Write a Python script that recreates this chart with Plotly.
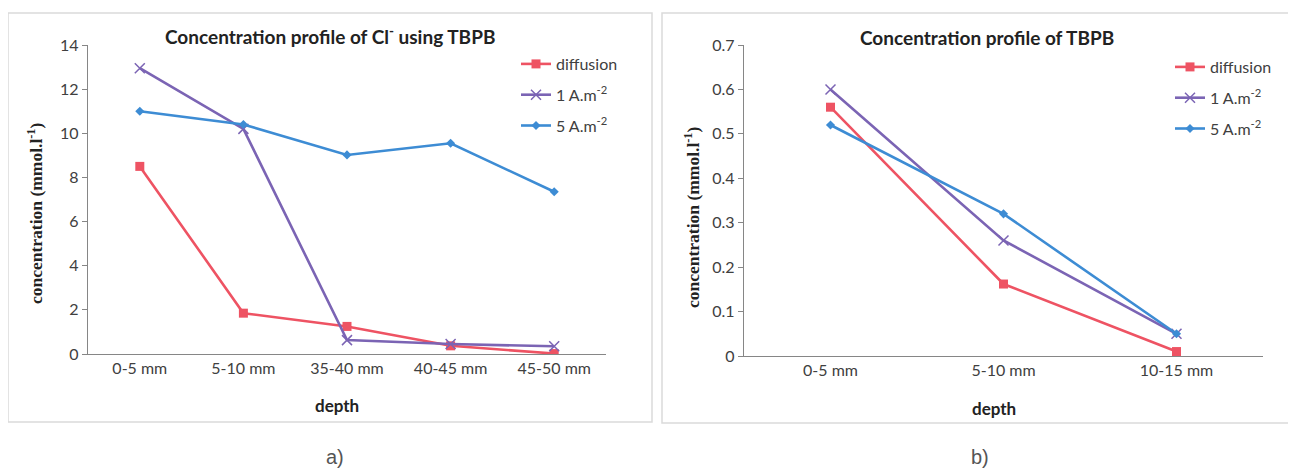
import plotly.graph_objects as go

# page body has an 8px margin; the figure is offset by it
OFF = 8
W, H = 1296 - OFF, 468 - OFF

# ---- data ----
cats_a = ["0-5 mm", "5-10 mm", "35-40 mm", "40-45 mm", "45-50 mm"]
diff_a = [8.5, 1.85, 1.25, 0.37, 0.02]
one_a = [12.95, 10.2, 0.63, 0.45, 0.35]
five_a = [11.0, 10.4, 9.02, 9.55, 7.35]

cats_b = ["0-5 mm", "5-10 mm", "10-15 mm"]
diff_b = [0.56, 0.162, 0.01]
one_b = [0.60, 0.26, 0.05]
five_b = [0.52, 0.32, 0.05]

names = ["diffusion", "1 A.m<sup>-2</sup>", "5 A.m<sup>-2</sup>"]
colors = ["#EE5363", "#7B64B4", "#3D8CD4"]

def px(x):
    return (x - OFF) / W

def py(y):
    return 1 - (y - OFF) / H

fig = go.Figure()

def add_series(cats, vals, i, xa, ya, leg):
    sym = ["square", "x-thin", "diamond"][i]
    size = [9, 10, 7][i]
    mline = dict(width=1.5, color=colors[i]) if i == 1 else dict(width=0)
    fig.add_trace(go.Scatter(
        x=cats, y=vals, mode="lines+markers", name=names[i],
        line=dict(color=colors[i], width=2.6),
        marker=dict(symbol=sym, size=size, color=colors[i], line=mline),
        xaxis=xa, yaxis=ya, legend=leg, legendgroup=leg + str(i),
    ))

for i, v in enumerate([diff_a, one_a, five_a]):
    add_series(cats_a, v, i, "x", "y", "legend")
for i, v in enumerate([diff_b, one_b, five_b]):
    add_series(cats_b, v, i, "x2", "y2", "legend2")

sans = "Lato, Open Sans, sans-serif"
serif = "Liberation Serif, Times New Roman, serif"
tickfont = dict(family=sans, size=16, color="#404040")
axline = dict(showline=True, linecolor="#868686", linewidth=1.3, showgrid=False,
              zeroline=False, tickfont=tickfont, automargin=False)

fig.update_layout(
    width=W, height=H,
    margin=dict(l=0, r=0, t=0, b=0, pad=0, autoexpand=False),
    paper_bgcolor="white", plot_bgcolor="white",
    xaxis=dict(domain=[px(88), px(606)], anchor="y", type="category",
               range=[-0.5, 4.5], ticks="", ticklen=0, **axline),
    yaxis=dict(domain=[py(354), py(45)], anchor="x", range=[0, 14], dtick=2,
               ticks="outside", ticklen=5, tickcolor="#868686", **axline),
    xaxis2=dict(domain=[px(744), px(1263)], anchor="y2", type="category",
                range=[-0.5, 2.5], ticks="", ticklen=0, **axline),
    yaxis2=dict(domain=[py(356), py(45)], anchor="x2", range=[0, 0.7], dtick=0.1,
                tickformat=".1~f",
                ticks="outside", ticklen=5, tickcolor="#868686", **axline),
    legend=dict(x=px(516), y=py(47), xanchor="left", yanchor="top",
                font=dict(family=sans, size=16, color="#404040"),
                bgcolor="rgba(0,0,0,0)", tracegroupgap=7, itemwidth=30),
    legend2=dict(x=px(1170), y=py(50), xanchor="left", yanchor="top",
                 font=dict(family=sans, size=16, color="#404040"),
                 bgcolor="rgba(0,0,0,0)", tracegroupgap=7, itemwidth=30),
    showlegend=True,
)

# panel borders
fig.add_shape(type="rect", xref="paper", yref="paper",
              x0=px(8), x1=px(652), y0=py(422), y1=py(13),
              line=dict(color="#DADADA", width=1.5))
fig.add_shape(type="rect", xref="paper", yref="paper",
              x0=px(662), x1=px(1300), y0=py(423), y1=py(13),
              line=dict(color="#DADADA", width=1.5))

def ann(text, x, y, size, family, color="#222", angle=0, bold=False):
    fig.add_annotation(text=f"<b>{text}</b>" if bold else text,
                       x=px(x), y=py(y), xref="paper", yref="paper",
                       showarrow=False, textangle=angle,
                       font=dict(size=size, family=family, color=color),
                       xanchor="center", yanchor="middle")

ann("Concentration profile of Cl<sup>-</sup> using TBPB", 330, 36, 19, sans, bold=True)
ann("Concentration profile of TBPB", 987, 38, 19, sans, bold=True)
ann("depth", 337, 405, 17, sans, bold=True)
ann("depth", 994, 408, 17, sans, bold=True)
ann("concentration (mmol.l<sup>-1</sup>)", 35, 214, 17.5, serif, angle=-90, bold=True)
ann("concentration (mmol.l<sup>-1</sup>)", 692, 217, 17.5, serif, angle=-90, bold=True)
ann("a)", 335, 457, 20, "Liberation Sans, Arial, sans-serif", color="#555")
ann("b)", 980, 457, 20, "Liberation Sans, Arial, sans-serif", color="#555")

fig.write_html("out.html")
